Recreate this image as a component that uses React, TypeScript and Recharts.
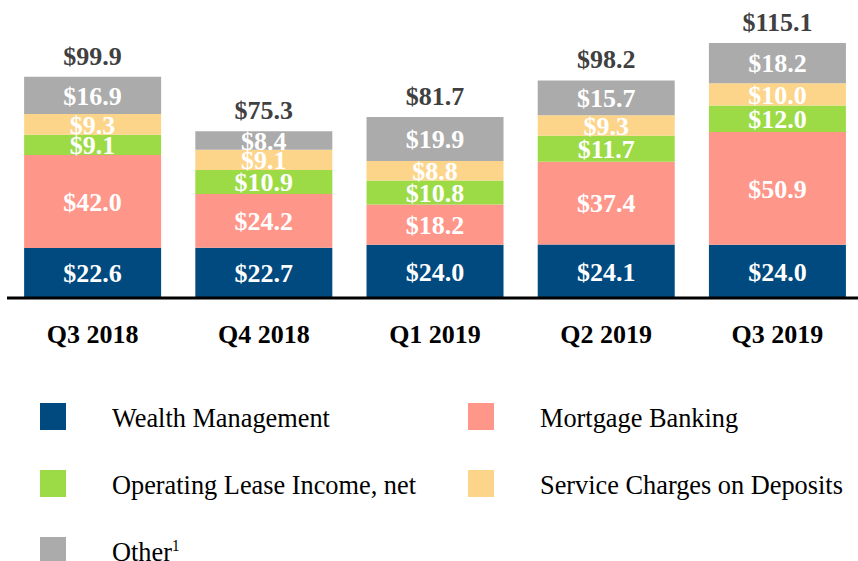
import { Bar, BarChart, LabelList, Legend, XAxis, YAxis } from 'recharts'

const categories = ['Q3 2018', 'Q4 2018', 'Q1 2019', 'Q2 2019', 'Q3 2019']
const wealthManagement = [22.6, 22.7, 24.0, 24.1, 24.0]
const mortgageBanking = [42.0, 24.2, 18.2, 37.4, 50.9]
const operatingLease = [9.1, 10.9, 10.8, 11.7, 12.0]
const serviceCharges = [9.3, 9.1, 8.8, 9.3, 10.0]
const other = [16.9, 8.4, 19.9, 15.7, 18.2]
const totals = [99.9, 75.3, 81.7, 98.2, 115.1]

const SERIES = [
  { key: 'wealth', name: 'Wealth Management', color: '#004A7F', values: wealthManagement },
  { key: 'mortgage', name: 'Mortgage Banking', color: '#FF968A', values: mortgageBanking },
  { key: 'lease', name: 'Operating Lease Income, net', color: '#9CDB45', values: operatingLease },
  { key: 'service', name: 'Service Charges on Deposits', color: '#FDD58A', values: serviceCharges },
  { key: 'other', name: 'Other', color: '#ABABAB', values: other },
]

const data = categories.map((name, i) => {
  const row: Record<string, string | number> = { name, total: totals[i] }
  SERIES.forEach((s) => {
    row[s.key] = s.values[i]
  })
  return row
})

const FONT = "'Liberation Serif', 'DejaVu Serif', serif"
const money = (v: unknown) => `$${Number(v).toFixed(1)}`

function CategoryTick(props: any) {
  const { x, y, payload } = props
  return (
    <text x={x} y={y} dy={37} textAnchor="middle" fill="#000" style={{ fontFamily: FONT }} fontWeight="bold" fontSize={26}>
      {payload.value}
    </text>
  )
}

// legend order: two columns, row by row
const LEGEND_ORDER = ['wealth', 'mortgage', 'lease', 'service', 'other']

function LegendBlock() {
  return (
    <div style={{ position: 'relative', width: 858, height: 170, fontFamily: FONT }}>
      {LEGEND_ORDER.map((key, i) => {
        const s = SERIES.find((d) => d.key === key)!
        const col = i % 2
        const row = Math.floor(i / 2)
        return (
          <div key={key} style={{ position: 'absolute', left: col === 0 ? 40 : 468, top: row * 67 }}>
            <div style={{ position: 'absolute', left: 0, top: 0, width: 26, height: 27, background: s.color }} />
            <div
              style={{
                position: 'absolute',
                left: 72,
                top: 1,
                fontSize: 28,
                lineHeight: '28px',
                color: '#000',
                whiteSpace: 'nowrap',
                transform: 'scaleX(0.94)',
                transformOrigin: 'left',
              }}
            >
              {s.name}
              {key === 'other' && <sup style={{ fontSize: 16, verticalAlign: 'top', lineHeight: '16px' }}>1</sup>}
            </div>
          </div>
        )
      })}
    </div>
  )
}

const labelStyle = { fontFamily: FONT }

export default function App() {
  return (
    <div style={{ position: 'absolute', left: 0, top: 0, width: 858, height: 561, overflow: 'hidden', background: '#fff', fontFamily: FONT }}>
      <BarChart
        width={870}
        height={561}
        data={data}
        margin={{ top: 10, right: 7, left: 7, bottom: 203 }}
        barCategoryGap="10%"
        style={{ fontFamily: FONT }}
      >
        <XAxis
          dataKey="name"
          height={60}
          tickLine={false}
          axisLine={{ stroke: '#000', strokeWidth: 3 }}
          tick={<CategoryTick />}
          interval={0}
        />
        <YAxis hide domain={[0, 130]} />
        <Legend
          layout="horizontal"
          verticalAlign="middle"
          align="center"
          content={() => <LegendBlock />}
          wrapperStyle={{ left: 0, top: 403, width: 858, height: 170 }}
        />
        {SERIES.map((s, idx) => (
          <Bar key={s.key} dataKey={s.key} name={s.name} stackId="a" fill={s.color} isAnimationActive={false}>
            <LabelList
              dataKey={s.key}
              position="center"
              formatter={money}
              fill="#fff"
              style={labelStyle}
              fontWeight="bold"
              fontSize={26}
            />
            {idx === SERIES.length - 1 && (
              <LabelList
                dataKey="total"
                position="top"
                offset={12}
                formatter={money}
                fill="#404040"
                style={labelStyle}
                fontWeight="bold"
                fontSize={26}
              />
            )}
          </Bar>
        ))}
      </BarChart>
    </div>
  )
}
